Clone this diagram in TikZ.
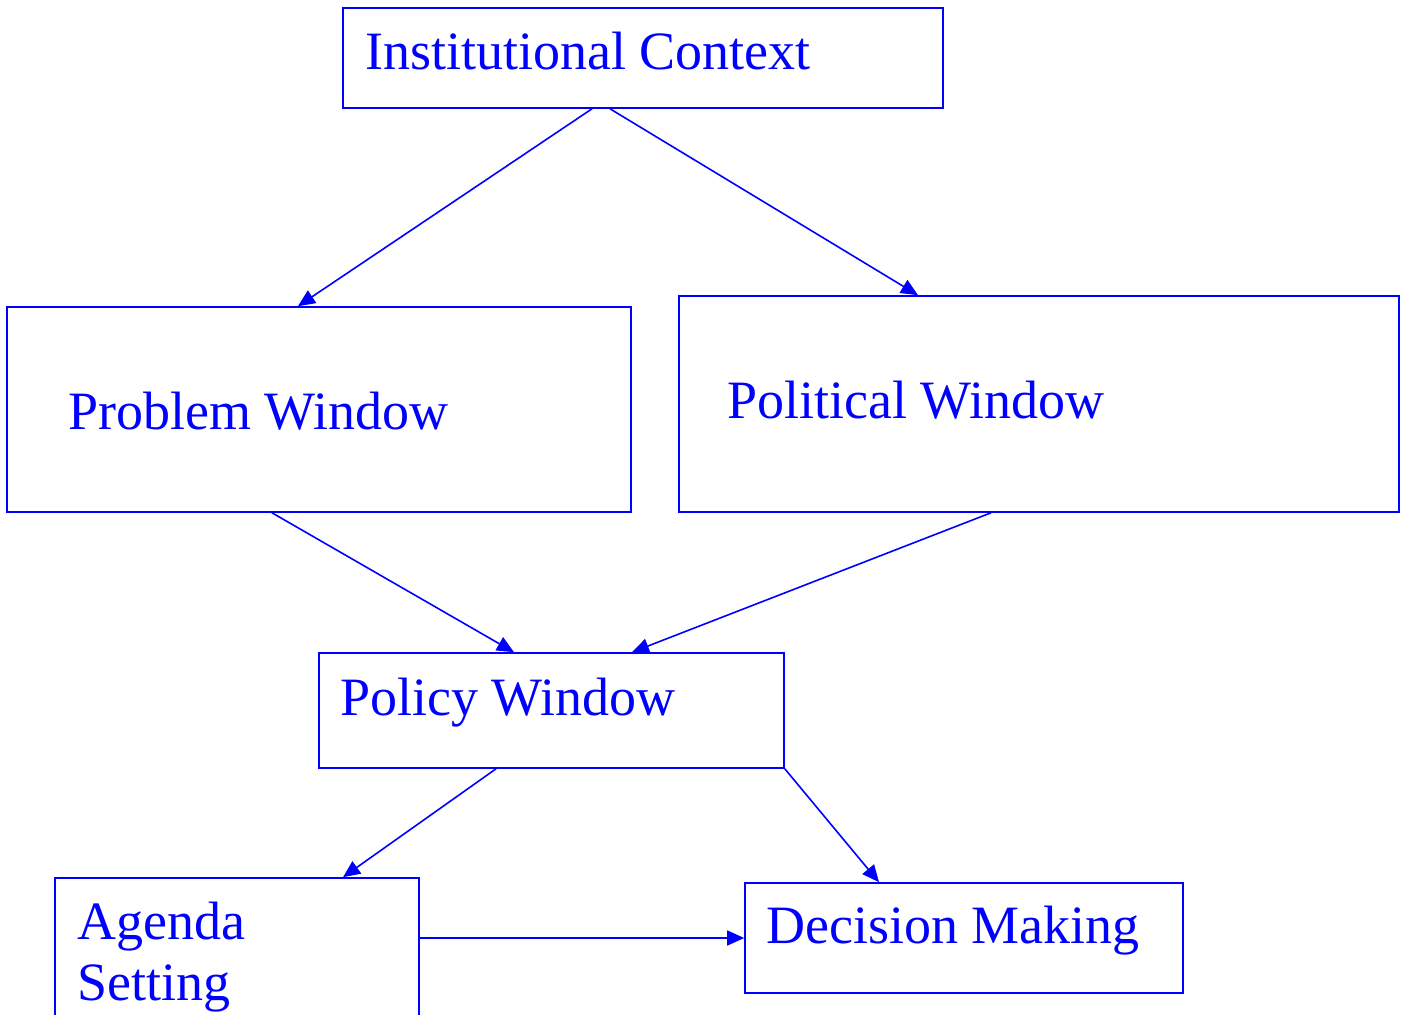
\documentclass[tikz,border=0pt]{standalone}
\usepackage{fontspec}
\setmainfont{Liberation Serif}
\usetikzlibrary{arrows.meta}
\tikzset{
  box/.style={draw=blue, line width=1.6pt, inner sep=0pt},
  lbl/.style={text=blue, inner sep=0pt, anchor=base west, font=\fontsize{54}{61}\selectfont},
  arr/.style={draw=blue, line width=1.6pt, -{Triangle[length=17pt,width=15pt]}}
}
\begin{document}
\begin{tikzpicture}[x=1pt,y=-1pt]
    \useasboundingbox (0,0) rectangle (1404,1014);

    \node[box, minimum width=600pt, minimum height=100pt] (inst) at (643,58){};
    \node[box, minimum width=624pt, minimum height=205pt] (prob) at (319,409.5){};
    \node[box, minimum width=720pt, minimum height=216pt] (pol) at (1039,404){};
    \node[box, minimum width=465pt, minimum height=115pt] (pcy) at (551.5,710.5){};
    \node[box, minimum width=364pt, minimum height=162pt] (agd) at (237,959){};
    \node[box, minimum width=438pt, minimum height=110pt] (dec) at (964,938){};

    \node[lbl] (instL) at (365,70){Institutional Context};
    \node[lbl] (probL) at (68,429){Problem Window};
    \node[lbl] (polL) at (727,418){Political Window};
    \node[lbl] (pcyL) at (340,715){Policy Window};
    \node[lbl] (agdL) at (77,939){Agenda};
    \node[lbl] (agdL2) at (77,1000){Setting};
    \node[lbl] (decL) at (766,943){Decision Making};

    \draw[arr] (592,0 |- inst.south) -- (298,0 |- prob.north);
    \draw[arr] (610,0 |- inst.south) -- (918,0 |- pol.north);
    \draw[arr] (272,0 |- prob.south) -- (514,0 |- pcy.north);
    \draw[arr] (991,0 |- pol.south) -- (632,0 |- pcy.north);
    \draw[arr] (496,0 |- pcy.south) -- (343,0 |- agd.north);
    \draw[arr] (pcy.south east) -- (879,0 |- dec.north);
    \draw[arr] (agd.east |- dec.west) -- (dec.west);
\end{tikzpicture}
\end{document}
